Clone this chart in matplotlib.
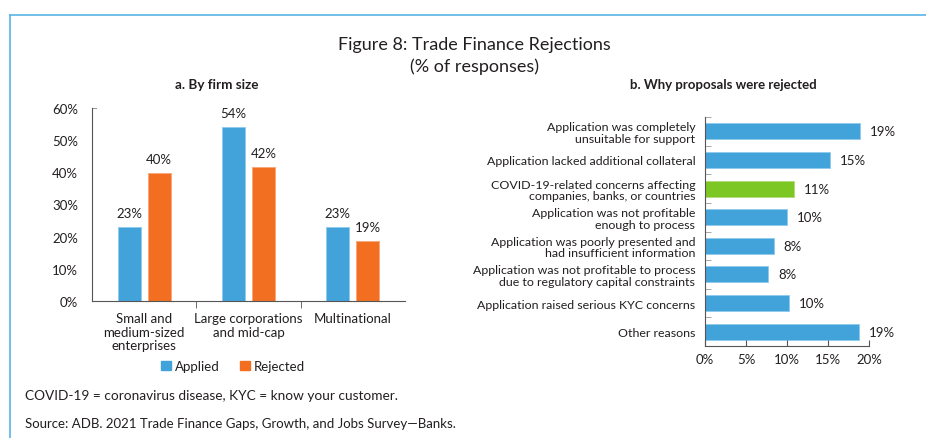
import numpy as np
import matplotlib
matplotlib.use("Agg")
from matplotlib import pyplot as plt
from matplotlib.lines import Line2D
from matplotlib.patches import Patch

plt.rcParams['font.family'] = ['Lato', 'DejaVu Sans']

# Panel a data
firm_sizes = ["Small and\nmedium-sized\nenterprises", "Large corporations\nand mid-cap", "Multinational"]
applied = [22.9, 54.0, 22.9]
rejected = [39.7, 41.6, 18.6]

# Panel b data
reasons = [
    "Application was completely\nunsuitable for support",
    "Application lacked additional collateral",
    "COVID-19-related concerns affecting\ncompanies, banks, or countries",
    "Application was not profitable\nenough to process",
    "Application was poorly presented and\nhad insufficient information",
    "Application was not profitable to process\ndue to regulatory capital constraints",
    "Application raised serious KYC concerns",
    "Other reasons",
]
reason_vals = [18.9, 15.2, 10.9, 10.0, 8.4, 7.7, 10.2, 18.8]
reason_labels = ["19%", "15%", "11%", "10%", "8%", "8%", "10%", "19%"]

BLUE = "#42a3da"
ORANGE = "#f26f21"
GREEN = "#7dc725"
GRAY = "#555555"
TXT = "#231f20"

fig = plt.figure(figsize=(9.26, 4.39), dpi=100)

# frame lines
fig.add_artist(Line2D([10/926, 1], [1 - 16/439, 1 - 16/439], color="#5ab4e5", lw=1.2))
fig.add_artist(Line2D([10/926, 10/926], [0, 1 - 16/439], color="#5ab4e5", lw=1.2))

fig.text(474/926, 1 - 45/439, "Figure 8: Trade Finance Rejections", ha="center", va="center",
         fontsize=13, color=TXT)
fig.text(474/926, 1 - 67/439, "(% of responses)", ha="center", va="center", fontsize=13, color=TXT)

# ---- panel a
ax1 = fig.add_axes([92/926, 1 - 302/439, 313/926, 193/439])
x = np.arange(len(firm_sizes))
off = 0.143
w = 0.22
b1 = ax1.bar(x - off, applied, w, color=BLUE, edgecolor="#8fcbed", linewidth=0.6, label="Applied")
b2 = ax1.bar(x + off, rejected, w, color=ORANGE, edgecolor="#f7a778", linewidth=0.6, label="Rejected")
for bars, vals in [(b1, applied), (b2, rejected)]:
    for r, v in zip(bars, vals):
        ax1.text(r.get_x() + r.get_width() / 2, v + 2.5, f"{v:.0f}%", ha="center", va="bottom",
                 fontsize=9.5, color=TXT)
ax1.set_xlim(-0.5, 2.5)
ax1.set_ylim(0, 60)
ax1.set_yticks(np.arange(0, 61, 10))
ax1.set_yticklabels([f"{t}%" for t in range(0, 61, 10)])
ax1.set_xticks(x)
ax1.set_xticklabels(firm_sizes, linespacing=1.15)
ax1.set_xticks([0.5, 1.5], minor=True)
ax1.tick_params(axis="x", which="major", length=0, pad=8, labelsize=9.5, labelcolor=TXT)
ax1.tick_params(axis="x", which="minor", length=5, direction="out", color=GRAY)
ax1.tick_params(axis="y", length=0, labelsize=9.5, labelcolor=TXT, pad=10)
ax1.axhline(60, xmin=0, xmax=0.012, color="#999999", lw=0.8)
for s in ["top", "right"]:
    ax1.spines[s].set_visible(False)
for s in ["left", "bottom"]:
    ax1.spines[s].set_color(GRAY)
    ax1.spines[s].set_linewidth(0.8)
fig.text(217/926, 1 - 85/439, "a. By firm size", ha="center", va="center",
         fontsize=9.7, fontweight="bold", color=TXT)

fig.legend(handles=[Patch(color=BLUE, label="Applied"), Patch(color=ORANGE, label="Rejected")],
           loc="center", bbox_to_anchor=(233/926, 1 - 367/439), ncol=2, frameon=False,
           handlelength=0.7, handleheight=0.7, handletextpad=0.3, columnspacing=1.6,
           fontsize=9.5, labelcolor=TXT)

# ---- panel b
ax2 = fig.add_axes([705/926, 1 - 347/439, 164/926, 229/439])
y = np.arange(len(reasons))
colors = [GREEN if "COVID" in r else BLUE for r in reasons]
edges = ["#b0dc7a" if "COVID" in r else "#8fcbed" for r in reasons]
hb = ax2.barh(y, reason_vals, 0.56, color=colors, edgecolor=edges, linewidth=0.6)
for r, v, lab in zip(hb, reason_vals, reason_labels):
    ax2.text(v + 1.2, r.get_y() + r.get_height() / 2, lab, ha="left", va="center",
             fontsize=9.5, color=TXT)
ax2.set_ylim(len(reasons) - 0.5, -0.5)
ax2.set_xlim(0, 20)
ax2.set_xticks(np.arange(0, 21, 5))
ax2.set_xticklabels([f"{t}%" for t in range(0, 21, 5)])
ax2.set_yticks(y)
ax2.set_yticklabels(reasons, linespacing=1.05)
ax2.set_yticks(np.arange(-0.5, len(reasons), 1), minor=True)
ax2.tick_params(axis="y", which="major", length=0, pad=7, labelsize=8.9, labelcolor=TXT)
ax2.tick_params(axis="y", which="minor", length=4, direction="in", color="#999999")
ax2.tick_params(axis="x", length=4, direction="in", color=GRAY, labelsize=9.5, labelcolor=TXT, pad=5)
for s in ["top", "right"]:
    ax2.spines[s].set_visible(False)
for s in ["left", "bottom"]:
    ax2.spines[s].set_color(GRAY)
    ax2.spines[s].set_linewidth(0.8)
fig.text(723/926, 1 - 85/439, "b. Why proposals were rejected", ha="center", va="center",
         fontsize=9.5, fontweight="bold", color=TXT)

fig.text(25/926, 1 - 396/439, "COVID-19 = coronavirus disease, KYC = know your customer.",
         ha="left", va="center", fontsize=9.8, color=TXT)
fig.text(25/926, 1 - 424/439, "Source: ADB. 2021 Trade Finance Gaps, Growth, and Jobs Survey\u2014Banks.",
         ha="left", va="center", fontsize=9.5, color=TXT)

fig.savefig("out.png", dpi=100)
